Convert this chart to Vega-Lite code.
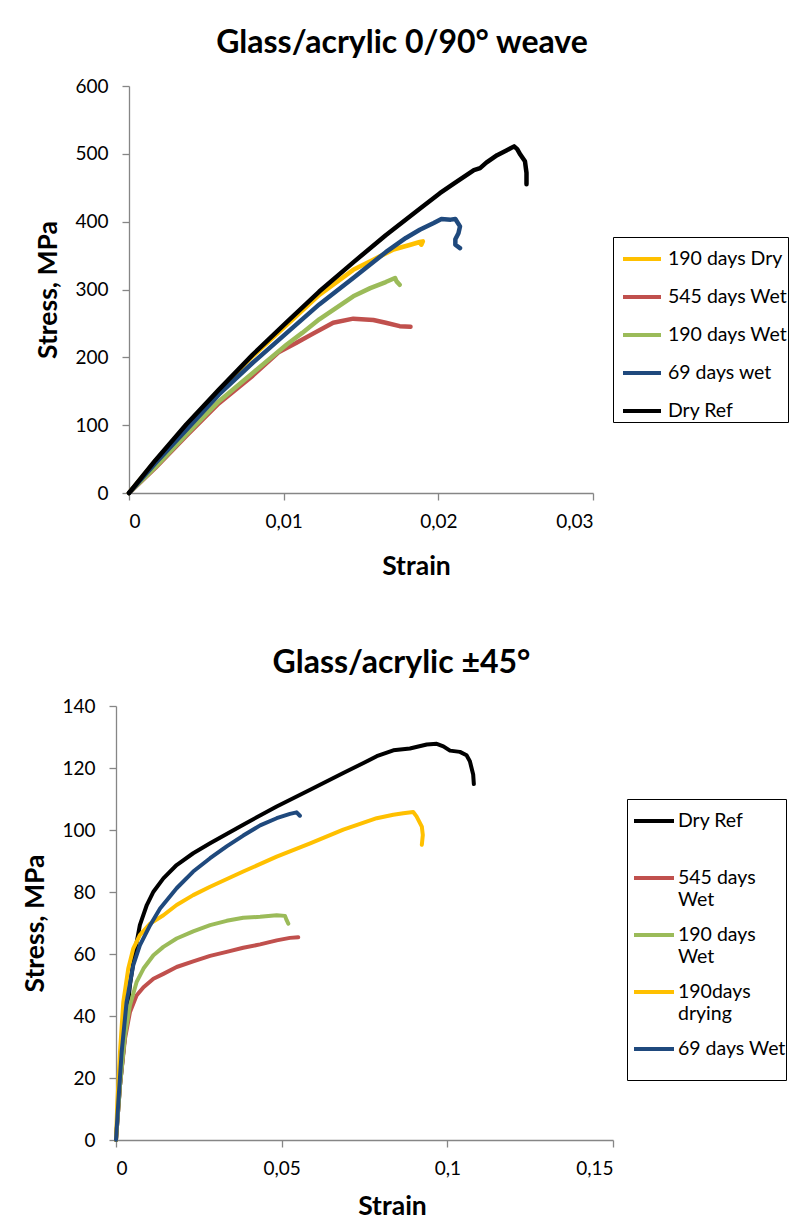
{
"$schema": "https://vega.github.io/schema/vega-lite/v6.json",
"background": "white",
"padding": {"left": 21, "top": 27, "right": 0, "bottom": 0},
"config": {
  "font": "Lato",
  "view": {"stroke": null},
  "axis": {"domainColor": "#868686", "tickColor": "#868686", "domainWidth": 1.3, "tickWidth": 1.3, "tickSize": 7, "grid": false, "labelFont": "Lato", "labelFontSize": 19, "labelColor": "#000", "titleFont": "Lato", "titleFontSize": 26.5, "titleFontWeight": "bold", "titleColor": "#000"},
  "title": {"font": "Lato", "fontSize": 32, "fontWeight": "bold", "color": "#000", "anchor": "middle", "frame": "group"},
  "legend": {"title": null, "orient": "none", "symbolType": "stroke", "labelFont": "Lato", "labelFontSize": 19.5, "labelColor": "#000", "strokeColor": "#000", "fillColor": "white", "labelLimit": 300}
},
"datasets": {
"weave": [
{"series":"190 days Dry","i":0,"strain":0,"stress":0},{"series":"190 days Dry","i":1,"strain":0.0017,"stress":47},{"series":"190 days Dry","i":2,"strain":0.0037,"stress":98},{"series":"190 days Dry","i":3,"strain":0.0058,"stress":151},{"series":"190 days Dry","i":4,"strain":0.008,"stress":202},{"series":"190 days Dry","i":5,"strain":0.0102,"stress":248},{"series":"190 days Dry","i":6,"strain":0.0123,"stress":292},{"series":"190 days Dry","i":7,"strain":0.0145,"stress":329},{"series":"190 days Dry","i":8,"strain":0.0158,"stress":344},{"series":"190 days Dry","i":9,"strain":0.0171,"stress":359},{"series":"190 days Dry","i":10,"strain":0.0182,"stress":366},{"series":"190 days Dry","i":11,"strain":0.0188,"stress":370},{"series":"190 days Dry","i":12,"strain":0.019,"stress":371},{"series":"190 days Dry","i":13,"strain":0.0189,"stress":366},
{"series":"545 days Wet","i":0,"strain":0,"stress":0},{"series":"545 days Wet","i":1,"strain":0.0017,"stress":37},{"series":"545 days Wet","i":2,"strain":0.0037,"stress":84},{"series":"545 days Wet","i":3,"strain":0.0058,"stress":132},{"series":"545 days Wet","i":4,"strain":0.008,"stress":173},{"series":"545 days Wet","i":5,"strain":0.0097,"stress":208},{"series":"545 days Wet","i":6,"strain":0.0108,"stress":221},{"series":"545 days Wet","i":7,"strain":0.0119,"stress":235},{"series":"545 days Wet","i":8,"strain":0.0132,"stress":251},{"series":"545 days Wet","i":9,"strain":0.0145,"stress":257},{"series":"545 days Wet","i":10,"strain":0.0158,"stress":255},{"series":"545 days Wet","i":11,"strain":0.0166,"stress":251},{"series":"545 days Wet","i":12,"strain":0.0175,"stress":246},{"series":"545 days Wet","i":13,"strain":0.0182,"stress":245},
{"series":"190 days Wet","i":0,"strain":0,"stress":0},{"series":"190 days Wet","i":1,"strain":0.0017,"stress":38},{"series":"190 days Wet","i":2,"strain":0.0037,"stress":86},{"series":"190 days Wet","i":3,"strain":0.0058,"stress":135},{"series":"190 days Wet","i":4,"strain":0.008,"stress":177},{"series":"190 days Wet","i":5,"strain":0.0102,"stress":219},{"series":"190 days Wet","i":6,"strain":0.0112,"stress":236},{"series":"190 days Wet","i":7,"strain":0.0123,"stress":256},{"series":"190 days Wet","i":8,"strain":0.0134,"stress":273},{"series":"190 days Wet","i":9,"strain":0.0145,"stress":290},{"series":"190 days Wet","i":10,"strain":0.0156,"stress":302},{"series":"190 days Wet","i":11,"strain":0.0166,"stress":311},{"series":"190 days Wet","i":12,"strain":0.0172,"stress":317},{"series":"190 days Wet","i":13,"strain":0.0173,"stress":312},{"series":"190 days Wet","i":14,"strain":0.0175,"stress":307},
{"series":"69 days wet","i":0,"strain":0,"stress":0},{"series":"69 days wet","i":1,"strain":0.0017,"stress":44},{"series":"69 days wet","i":2,"strain":0.0037,"stress":93},{"series":"69 days wet","i":3,"strain":0.0058,"stress":145},{"series":"69 days wet","i":4,"strain":0.008,"stress":192},{"series":"69 days wet","i":5,"strain":0.0102,"stress":236},{"series":"69 days wet","i":6,"strain":0.0123,"stress":278},{"series":"69 days wet","i":7,"strain":0.0145,"stress":317},{"series":"69 days wet","i":8,"strain":0.0166,"stress":355},{"series":"69 days wet","i":9,"strain":0.0179,"stress":376},{"series":"69 days wet","i":10,"strain":0.0188,"stress":388},{"series":"69 days wet","i":11,"strain":0.0197,"stress":398},{"series":"69 days wet","i":12,"strain":0.0202,"stress":404},{"series":"69 days wet","i":13,"strain":0.0208,"stress":403},{"series":"69 days wet","i":14,"strain":0.0211,"stress":404},{"series":"69 days wet","i":15,"strain":0.0214,"stress":393},{"series":"69 days wet","i":16,"strain":0.0213,"stress":383},{"series":"69 days wet","i":17,"strain":0.0211,"stress":374},{"series":"69 days wet","i":18,"strain":0.0211,"stress":366},{"series":"69 days wet","i":19,"strain":0.0214,"stress":361},
{"series":"Dry Ref","i":0,"strain":0,"stress":0},{"series":"Dry Ref","i":1,"strain":0.0017,"stress":48},{"series":"Dry Ref","i":2,"strain":0.0037,"stress":101},{"series":"Dry Ref","i":3,"strain":0.0058,"stress":152},{"series":"Dry Ref","i":4,"strain":0.008,"stress":204},{"series":"Dry Ref","i":5,"strain":0.0102,"stress":252},{"series":"Dry Ref","i":6,"strain":0.0123,"stress":297},{"series":"Dry Ref","i":7,"strain":0.0145,"stress":340},{"series":"Dry Ref","i":8,"strain":0.0166,"stress":380},{"series":"Dry Ref","i":9,"strain":0.0188,"stress":419},{"series":"Dry Ref","i":10,"strain":0.0201,"stress":442},{"series":"Dry Ref","i":11,"strain":0.021,"stress":456},{"series":"Dry Ref","i":12,"strain":0.0223,"stress":476},{"series":"Dry Ref","i":13,"strain":0.0227,"stress":479},{"series":"Dry Ref","i":14,"strain":0.0231,"stress":487},{"series":"Dry Ref","i":15,"strain":0.0238,"stress":498},{"series":"Dry Ref","i":16,"strain":0.0244,"stress":505},{"series":"Dry Ref","i":17,"strain":0.0249,"stress":511},{"series":"Dry Ref","i":18,"strain":0.0251,"stress":507},{"series":"Dry Ref","i":19,"strain":0.0253,"stress":499},{"series":"Dry Ref","i":20,"strain":0.0256,"stress":489},{"series":"Dry Ref","i":21,"strain":0.0257,"stress":472},{"series":"Dry Ref","i":22,"strain":0.0257,"stress":455}
],
"pm45": [
{"series":"Dry Ref","i":0,"strain":0,"stress":0},{"series":"Dry Ref","i":1,"strain":0.0012,"stress":17.5},{"series":"Dry Ref","i":2,"strain":0.0027,"stress":33.7},{"series":"Dry Ref","i":3,"strain":0.0042,"stress":49.9},{"series":"Dry Ref","i":4,"strain":0.0057,"stress":60.7},{"series":"Dry Ref","i":5,"strain":0.0072,"stress":69.3},{"series":"Dry Ref","i":6,"strain":0.0093,"stress":75.8},{"series":"Dry Ref","i":7,"strain":0.0113,"stress":80.1},{"series":"Dry Ref","i":8,"strain":0.0143,"stress":84.4},{"series":"Dry Ref","i":9,"strain":0.0183,"stress":88.7},{"series":"Dry Ref","i":10,"strain":0.0233,"stress":92.5},{"series":"Dry Ref","i":11,"strain":0.0284,"stress":95.7},{"series":"Dry Ref","i":12,"strain":0.0384,"stress":101.7},{"series":"Dry Ref","i":13,"strain":0.0485,"stress":107.6},{"series":"Dry Ref","i":14,"strain":0.0586,"stress":113},{"series":"Dry Ref","i":15,"strain":0.0686,"stress":118.4},{"series":"Dry Ref","i":16,"strain":0.0747,"stress":121.6},{"series":"Dry Ref","i":17,"strain":0.0787,"stress":123.8},{"series":"Dry Ref","i":18,"strain":0.0837,"stress":125.7},{"series":"Dry Ref","i":19,"strain":0.0887,"stress":126.3},{"series":"Dry Ref","i":20,"strain":0.0938,"stress":127.6},{"series":"Dry Ref","i":21,"strain":0.0968,"stress":127.8},{"series":"Dry Ref","i":22,"strain":0.0988,"stress":127},{"series":"Dry Ref","i":23,"strain":0.1008,"stress":125.6},{"series":"Dry Ref","i":24,"strain":0.1038,"stress":125.2},{"series":"Dry Ref","i":25,"strain":0.1058,"stress":124.1},{"series":"Dry Ref","i":26,"strain":0.1068,"stress":122.2},{"series":"Dry Ref","i":27,"strain":0.1078,"stress":117.9},{"series":"Dry Ref","i":28,"strain":0.108,"stress":114.8},
{"series":"545 days Wet","i":0,"strain":0,"stress":0},{"series":"545 days Wet","i":1,"strain":0.0012,"stress":17.5},{"series":"545 days Wet","i":2,"strain":0.0027,"stress":32.6},{"series":"545 days Wet","i":3,"strain":0.0042,"stress":41.2},{"series":"545 days Wet","i":4,"strain":0.0062,"stress":46.6},{"series":"545 days Wet","i":5,"strain":0.0083,"stress":49.3},{"series":"545 days Wet","i":6,"strain":0.0113,"stress":52},{"series":"545 days Wet","i":7,"strain":0.0143,"stress":53.6},{"series":"545 days Wet","i":8,"strain":0.0183,"stress":55.8},{"series":"545 days Wet","i":9,"strain":0.0233,"stress":57.6},{"series":"545 days Wet","i":10,"strain":0.0284,"stress":59.4},{"series":"545 days Wet","i":11,"strain":0.0334,"stress":60.7},{"series":"545 days Wet","i":12,"strain":0.0384,"stress":62},{"series":"545 days Wet","i":13,"strain":0.0435,"stress":63.1},{"series":"545 days Wet","i":14,"strain":0.0485,"stress":64.4},{"series":"545 days Wet","i":15,"strain":0.0525,"stress":65.2},{"series":"545 days Wet","i":16,"strain":0.055,"stress":65.4},
{"series":"190 days Wet","i":0,"strain":0,"stress":0},{"series":"190 days Wet","i":1,"strain":0.0012,"stress":17.5},{"series":"190 days Wet","i":2,"strain":0.0027,"stress":33.7},{"series":"190 days Wet","i":3,"strain":0.0042,"stress":43.4},{"series":"190 days Wet","i":4,"strain":0.0062,"stress":50.9},{"series":"190 days Wet","i":5,"strain":0.0083,"stress":55.3},{"series":"190 days Wet","i":6,"strain":0.0113,"stress":59.6},{"series":"190 days Wet","i":7,"strain":0.0143,"stress":62.3},{"series":"190 days Wet","i":8,"strain":0.0183,"stress":65},{"series":"190 days Wet","i":9,"strain":0.0233,"stress":67.3},{"series":"190 days Wet","i":10,"strain":0.0284,"stress":69.3},{"series":"190 days Wet","i":11,"strain":0.0334,"stress":70.7},{"series":"190 days Wet","i":12,"strain":0.0384,"stress":71.7},{"series":"190 days Wet","i":13,"strain":0.0435,"stress":72},{"series":"190 days Wet","i":14,"strain":0.0485,"stress":72.5},{"series":"190 days Wet","i":15,"strain":0.051,"stress":72.3},{"series":"190 days Wet","i":16,"strain":0.0515,"stress":70.9},{"series":"190 days Wet","i":17,"strain":0.052,"stress":69.8},
{"series":"190days drying","i":0,"strain":0,"stress":0},{"series":"190days drying","i":1,"strain":0.0004,"stress":12.1},{"series":"190days drying","i":2,"strain":0.0012,"stress":28.3},{"series":"190days drying","i":3,"strain":0.0022,"stress":44.5},{"series":"190days drying","i":4,"strain":0.0037,"stress":55.3},{"series":"190days drying","i":5,"strain":0.0052,"stress":61.7},{"series":"190days drying","i":6,"strain":0.0072,"stress":66.1},{"series":"190days drying","i":7,"strain":0.0103,"stress":69.8},{"series":"190days drying","i":8,"strain":0.0143,"stress":72.5},{"series":"190days drying","i":9,"strain":0.0183,"stress":75.8},{"series":"190days drying","i":10,"strain":0.0233,"stress":79},{"series":"190days drying","i":11,"strain":0.0284,"stress":81.7},{"series":"190days drying","i":12,"strain":0.0384,"stress":86.6},{"series":"190days drying","i":13,"strain":0.0485,"stress":91.4},{"series":"190days drying","i":14,"strain":0.0586,"stress":95.7},{"series":"190days drying","i":15,"strain":0.0686,"stress":100.1},{"series":"190days drying","i":16,"strain":0.0787,"stress":103.8},{"series":"190days drying","i":17,"strain":0.0837,"stress":104.9},{"series":"190days drying","i":18,"strain":0.0867,"stress":105.4},{"series":"190days drying","i":19,"strain":0.0897,"stress":105.8},{"series":"190days drying","i":20,"strain":0.0907,"stress":104.4},{"series":"190days drying","i":21,"strain":0.0923,"stress":101.1},{"series":"190days drying","i":22,"strain":0.0926,"stress":98.4},{"series":"190days drying","i":23,"strain":0.0923,"stress":95.2},
{"series":"69 days Wet","i":0,"strain":0,"stress":0},{"series":"69 days Wet","i":1,"strain":0.0007,"stress":12.1},{"series":"69 days Wet","i":2,"strain":0.0017,"stress":28.3},{"series":"69 days Wet","i":3,"strain":0.0032,"stress":44.5},{"series":"69 days Wet","i":4,"strain":0.0052,"stress":56.3},{"series":"69 days Wet","i":5,"strain":0.0072,"stress":62.8},{"series":"69 days Wet","i":6,"strain":0.0103,"stress":69.3},{"series":"69 days Wet","i":7,"strain":0.0133,"stress":74.7},{"series":"69 days Wet","i":8,"strain":0.0183,"stress":81.2},{"series":"69 days Wet","i":9,"strain":0.0233,"stress":86.6},{"series":"69 days Wet","i":10,"strain":0.0284,"stress":90.9},{"series":"69 days Wet","i":11,"strain":0.0334,"stress":94.7},{"series":"69 days Wet","i":12,"strain":0.0384,"stress":98.2},{"series":"69 days Wet","i":13,"strain":0.0435,"stress":101.5},{"series":"69 days Wet","i":14,"strain":0.0485,"stress":103.8},{"series":"69 days Wet","i":15,"strain":0.0525,"stress":105.2},{"series":"69 days Wet","i":16,"strain":0.0545,"stress":105.7},{"series":"69 days Wet","i":17,"strain":0.0555,"stress":104.6}
]
},
"spacing": 67,
"resolve": {"scale": {"color": "independent", "x": "independent", "y": "independent"}, "legend": {"color": "independent"}},
"vconcat": [
{"spacing": 0, "hconcat": [
{"width": 1, "height": 1, "data": {"values": []}, "mark": "point"},
{
  "width": 464, "height": 407,
  "title": {"text": "Glass/acrylic 0/90° weave", "dx": 41, "offset": 17},
  "data": {"name": "weave"},
  "mark": {"type": "line", "strokeWidth": 4.5, "strokeCap": "round", "strokeJoin": "round"},
  "encoding": {
    "x": {"field": "strain", "type": "quantitative", "scale": {"domain": [0, 0.03], "nice": false, "zero": true},
      "axis": {"values": [0, 0.01, 0.02, 0.03], "labelExpr": "replace(toString(datum.value), '.', ',')", "title": "Strain", "titleX": 287, "titlePadding": 22, "labelPadding": 12}},
    "y": {"field": "stress", "type": "quantitative", "scale": {"domain": [0, 600], "nice": false},
      "axis": {"values": [0, 100, 200, 300, 400, 500, 600], "title": ["", "Stress, MPa"], "titleLineHeight": 13, "titleX": -94, "titleBaseline": "middle", "labelPadding": 14}},
    "color": {"field": "series", "type": "nominal",
      "scale": {"domain": ["190 days Dry", "545 days Wet", "190 days Wet", "69 days wet", "Dry Ref"], "range": ["#FFC000", "#C0504D", "#9BBB59", "#1F497D", "#000000"]},
      "legend": {"legendX": 592, "legendY": 151, "symbolSize": 1444, "symbolStrokeWidth": 4, "rowPadding": 7, "padding": 1, "symbolOffset": 7, "labelOffset": 5}},
    "order": {"field": "i", "type": "quantitative"}
  }
}]},
{"spacing": 0, "hconcat": [
{"width": 1, "height": 1, "data": {"values": []}, "mark": "point"},
{
  "width": 497, "height": 434,
  "title": {"text": "Glass/acrylic ±45°", "dx": 37, "offset": 17},
  "data": {"name": "pm45"},
  "mark": {"type": "line", "strokeWidth": 4, "strokeCap": "round", "strokeJoin": "round"},
  "encoding": {
    "x": {"field": "strain", "type": "quantitative", "scale": {"domain": [0, 0.15], "nice": false},
      "axis": {"values": [0, 0.05, 0.1, 0.15], "labelExpr": "replace(toString(datum.value), '.', ',')", "title": "Strain", "titleX": 276, "titlePadding": 15, "labelPadding": 12}},
    "y": {"field": "stress", "type": "quantitative", "scale": {"domain": [0, 140], "nice": false},
      "axis": {"values": [0, 20, 40, 60, 80, 100, 120, 140], "title": "Stress, MPa", "titleX": -81, "titleBaseline": "middle", "labelPadding": 14}},
    "color": {"field": "series", "type": "nominal",
      "scale": {"domain": ["Dry Ref", "545 days Wet", "190 days Wet", "190days drying", "69 days Wet"], "range": ["#000000", "#C0504D", "#9BBB59", "#FFC000", "#1F497D"]},
      "legend": {"legendX": 606, "legendY": 93, "symbolSize": 1600, "symbolStrokeWidth": 4, "rowPadding": 4, "padding": 0, "symbolOffset": 5, "labelOffset": 2, "labelLineHeight": 24,
        "labelExpr": "datum.label == 'Dry Ref' ? ['Dry Ref', ''] : datum.label == '545 days Wet' ? ['545 days', 'Wet'] : datum.label == '190 days Wet' ? ['190 days', 'Wet'] : datum.label == '190days drying' ? ['190days', 'drying'] : ['69 days Wet', '']"}},
    "order": {"field": "i", "type": "quantitative"}
  }
}]}
]
}
